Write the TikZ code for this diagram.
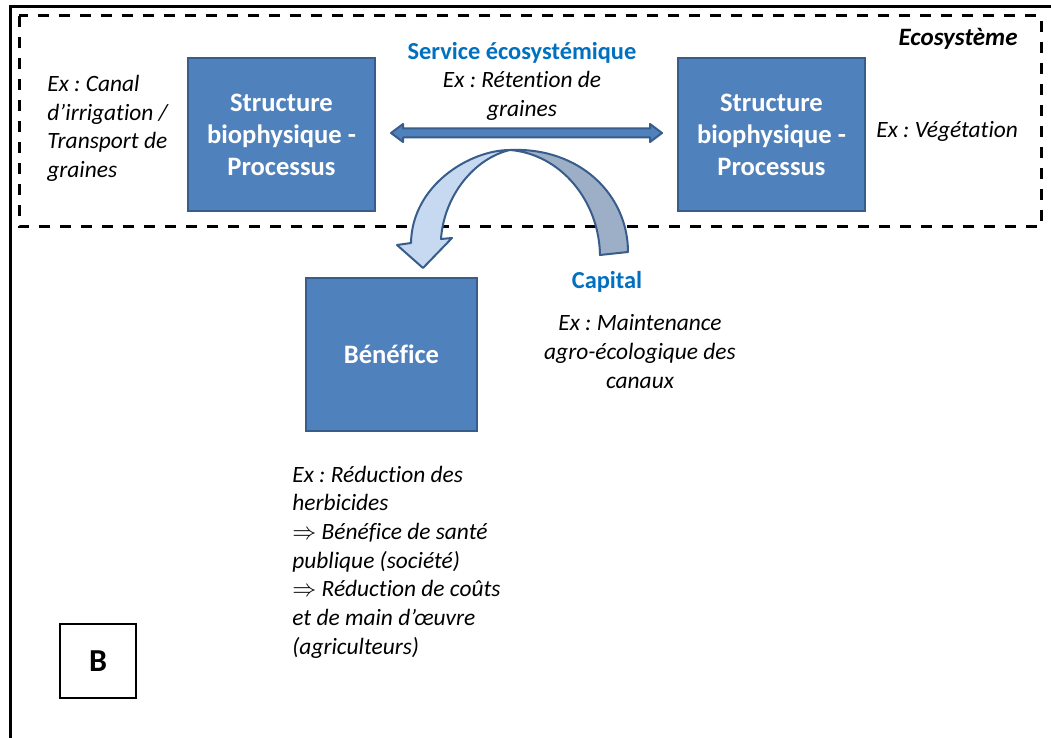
\documentclass[tikz,border=0pt]{standalone}
\usepackage{fontspec}
\setmainfont{Carlito}[Ligatures=NoCommon]
\usepackage{amsmath}
\usetikzlibrary{calc}
\frenchspacing

\definecolor{boxfill}{HTML}{4F81BD}
\definecolor{boxedge}{HTML}{385D8A}
\definecolor{titleblue}{HTML}{0070C0}
\definecolor{arrowfront}{HTML}{C6D9F1}
\definecolor{arrowback}{HTML}{9DAFC7}

\tikzset{
        procbox/.style={draw=boxedge, fill=boxfill, line width=1pt, text=white, align=center,
                font=\bfseries\fontsize{13.3}{16}\selectfont, inner sep=0pt,
                minimum width=93.5pt, minimum height=76.5pt},
        exemple/.style={font=\itshape\fontsize{11.7}{14.35}\selectfont, inner sep=0pt},
        titre/.style={text=titleblue, font=\bfseries\fontsize{12.2}{14.6}\selectfont, inner sep=0pt},
        arrowline/.style={draw=boxedge, line width=1pt, line join=round}
}

\begin{document}
\begin{tikzpicture}[x=0.5pt,y=-0.5pt]
        \useasboundingbox (0,0) rectangle (1051,738);
        \clip (0,0) rectangle (1051,738);
        \fill[white] (0,0) rectangle (1051,738);
        \draw[line width=1.5pt] (10,7) rectangle (1070,760);
        \draw[line width=1.5pt, dash pattern=on 5.5pt off 5pt] (19,16) rectangle (1041,227);

        \node[procbox] (sleft) at (281.5,134.5) {Structure\\biophysique -\\Processus};
        \node[procbox] (sright) at (771.5,134.5) {Structure\\biophysique -\\Processus};
        \node[procbox, minimum width=85.5pt] (benef) at (391.5,354.5) {Bénéfice};
        \node[draw, line width=1pt, inner sep=0pt, minimum width=38pt, minimum height=37pt,
                font=\bfseries\fontsize{16}{19}\selectfont] (lettre) at (98,661) {B};

        \node[exemple, anchor=east, font=\bfseries\itshape\fontsize{12.5}{15}\selectfont] (eco) at (1018,39) {Ecosystème};
        \node[exemple, anchor=west, align=left] (exgauche) at (47,128.5) {Ex : Canal\\d’irrigation /\\Transport de\\graines};
        \node[exemple, anchor=west] (exdroite) at (876,131) {Ex : Végétation};

        \node[titre] (service) at (522,53) {Service écosystémique};
        \node[exemple, align=center] (retention) at (522,96) {Ex : Rétention de\\graines};
        \node[titre] (capital) at (607,282) {Capital};
        \node[exemple, align=center] (maintenance) at (640,351.5) {Ex : Maintenance\\agro-écologique des\\canaux};
        \node[exemple, anchor=west, align=left] (exbenef) at (292,562) {Ex : Réduction des\\herbicides\\$\Rightarrow$ Bénéfice de santé\\publique (société)\\$\Rightarrow$ Réduction de coûts\\et de main d’œuvre\\(agriculteurs)};

        \coordinate (flecheG) at ($(sleft.east)+(15,-1.5)$);
        \coordinate (flecheD) at ($(sright.west)+(-15,-1.5)$);
        \draw[arrowline, fill=boxfill] (flecheG) -- ($(flecheG)+(12,-9)$) -- ($(flecheG)+(12,-4.5)$)
                -- ($(flecheD)+(-12,-4.5)$) -- ($(flecheD)+(-12,-9)$) -- (flecheD)
                -- ($(flecheD)+(-12,9)$) -- ($(flecheD)+(-12,4.5)$)
                -- ($(flecheG)+(12,4.5)$) -- ($(flecheG)+(12,9)$) -- cycle;

        \draw[arrowline, fill=arrowback] (510,150) .. controls (580,147) and (628,195) .. (628,252)
                -- (600,255) .. controls (599,200) and (560,154) .. (510,150) -- cycle;
        \draw[arrowline, fill=arrowfront] (510,150) .. controls (470,150) and (412,185) .. (411,243)
                -- (397,245) -- (423,268) -- (452,238) -- (441,239)
                .. controls (444,195) and (475,158) .. (510,150) -- cycle;
\end{tikzpicture}
\end{document}
